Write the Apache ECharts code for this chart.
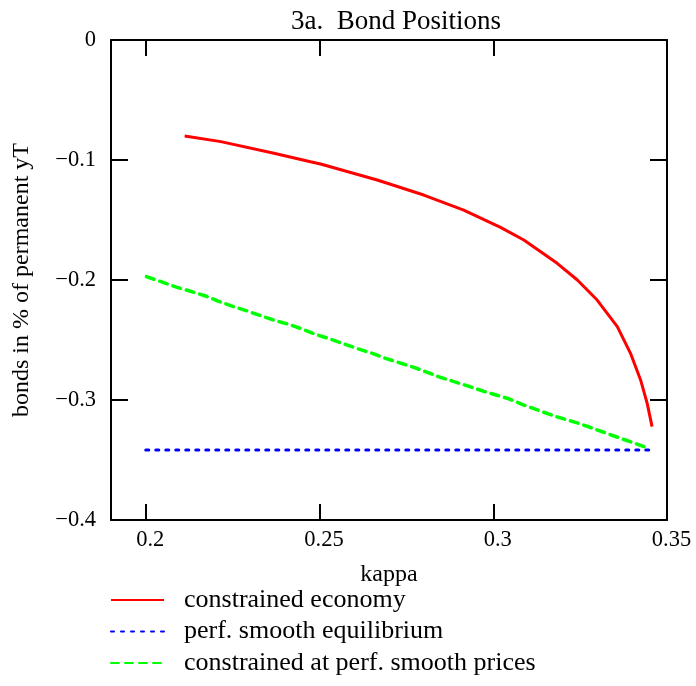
<!DOCTYPE html>
<html>
<head>
<meta charset="utf-8">
<script src="https://cdn.jsdelivr.net/npm/echarts@6/dist/echarts.min.js"></script>
<style>html,body{margin:0;padding:0;background:#fff}#c{width:696px;height:686px}</style>
</head>
<body>
<div id="c"></div>
<script>
const title = '3a.  Bond Positions';
const xName = 'kappa';
const yName = 'bonds in % of permanent yT';
const xTicks = [0.2, 0.25, 0.3, 0.35];
const yTicks = [0, -0.1, -0.2, -0.3, -0.4];
const seriesNames = ['constrained economy', 'perf. smooth equilibrium', 'constrained at perf. smooth prices'];

const redKappa = [0.2112, 0.2216, 0.2369, 0.2474, 0.2503, 0.2666, 0.2800, 0.2915, 0.3021, 0.3088, 0.3184, 0.3242, 0.3299, 0.3357, 0.3395, 0.3424, 0.3443, 0.3457];
const redBonds = [-0.080, -0.0847, -0.0944, -0.1014, -0.1033, -0.1167, -0.1292, -0.1417, -0.1561, -0.1667, -0.1861, -0.2000, -0.2167, -0.2389, -0.2611, -0.2833, -0.3028, -0.3222];

const blueKappa = [0.2, 0.345];
const blueBonds = [-0.3417, -0.3417];

const greenKappa = [0.2002, 0.2052, 0.2090, 0.2129, 0.2172, 0.2210, 0.2253, 0.2292, 0.2330, 0.2373, 0.2412, 0.2452, 0.2489, 0.2532, 0.2609, 0.2652, 0.2690, 0.2772, 0.2848, 0.2933, 0.2973, 0.3045, 0.3088, 0.3175, 0.3252, 0.3367, 0.3448];
const greenBonds = [-0.1972, -0.2022, -0.2061, -0.2094, -0.2133, -0.2178, -0.2222, -0.2258, -0.2297, -0.2339, -0.2369, -0.2411, -0.2453, -0.2493, -0.2572, -0.2611, -0.2653, -0.2728, -0.2811, -0.2889, -0.2928, -0.2990, -0.3042, -0.3133, -0.3200, -0.3320, -0.3403];

const zip = (a, b) => a.map((v, i) => [v, b[i]]);
const FONT = '"Liberation Serif", "Times New Roman", serif';
const fmt = v => String(+v.toFixed(3)).replace('-', '\u2212');

const chart = echarts.init(document.getElementById('c'), null, {renderer: 'canvas'});
const axisLine = {show: true, onZero: false, lineStyle: {color: '#000', width: 2}};
chart.setOption({
  animation: false,
  backgroundColor: '#fff',
  title: {text: title, left: 391, textAlign: 'center', top: 3,
    textStyle: {fontFamily: FONT, fontSize: 27, fontWeight: 'normal', color: '#000'}},
  grid: {left: 111, right: 29, top: 40, bottom: 166, containLabel: false, outerBoundsMode: 'none'},
  xAxis: [{
    type: 'value', min: 0.19, max: 0.35, position: 'bottom',
    name: xName, nameLocation: 'middle', nameGap: 43,
    nameTextStyle: {fontFamily: FONT, fontSize: 24, color: '#000'},
    axisLine: axisLine,
    axisTick: {show: true, inside: true, length: 16, customValues: xTicks, lineStyle: {color: '#000', width: 2}},
    axisLabel: {customValues: xTicks, formatter: fmt, fontFamily: FONT, fontSize: 22.5, color: '#000', margin: 9, padding: [0, 0, 0, 9]},
    splitLine: {show: false}
  }, {
    type: 'value', min: 0.19, max: 0.35, position: 'top',
    axisLine: axisLine,
    axisTick: {show: true, inside: true, length: 16, customValues: xTicks, lineStyle: {color: '#000', width: 2}},
    axisLabel: {show: false},
    splitLine: {show: false}
  }],
  yAxis: [{
    type: 'value', min: -0.4, max: 0, interval: 0.1, position: 'left',
    name: yName, nameLocation: 'middle', nameGap: 77, nameRotate: 90,
    nameTextStyle: {fontFamily: FONT, fontSize: 24, color: '#000'},
    axisLine: axisLine,
    axisTick: {show: true, inside: true, length: 17, lineStyle: {color: '#000', width: 2}},
    axisLabel: {formatter: fmt, fontFamily: FONT, fontSize: 22.5, color: '#000', margin: 15},
    splitLine: {show: false}
  }, {
    type: 'value', min: -0.4, max: 0, interval: 0.1, position: 'right',
    axisLine: axisLine,
    axisTick: {show: true, inside: true, length: 17, lineStyle: {color: '#000', width: 2}},
    axisLabel: {show: false},
    splitLine: {show: false}
  }],
  legend: {
    orient: 'vertical', left: 110, top: 583, itemGap: -2.5, padding: 0,
    itemWidth: 53, itemHeight: 20,
    itemStyle: {opacity: 0},
    data: seriesNames,
    textStyle: {fontFamily: FONT, fontSize: 26, lineHeight: 26, color: '#000', padding: [8, 0, 0, 15]}
  },
  series: [{
    name: seriesNames[0], type: 'line', data: zip(redKappa, redBonds),
    showSymbol: false, symbol: 'none', smooth: false,
    lineStyle: {color: '#ff0000', width: 3}, itemStyle: {color: '#ff0000'}
  }, {
    name: seriesNames[1], type: 'line', data: zip(blueKappa, blueBonds),
    showSymbol: false, symbol: 'none',
    lineStyle: {color: '#0000ff', width: 3, type: [3, 7], cap: 'round'}, itemStyle: {color: '#0000ff'}
  }, {
    name: seriesNames[2], type: 'line', data: zip(greenKappa, greenBonds),
    showSymbol: false, symbol: 'none',
    lineStyle: {color: '#00ff00', width: 3.5, type: [8, 6], cap: 'round'}, itemStyle: {color: '#00ff00'}
  }]
});
</script>
</body>
</html>
